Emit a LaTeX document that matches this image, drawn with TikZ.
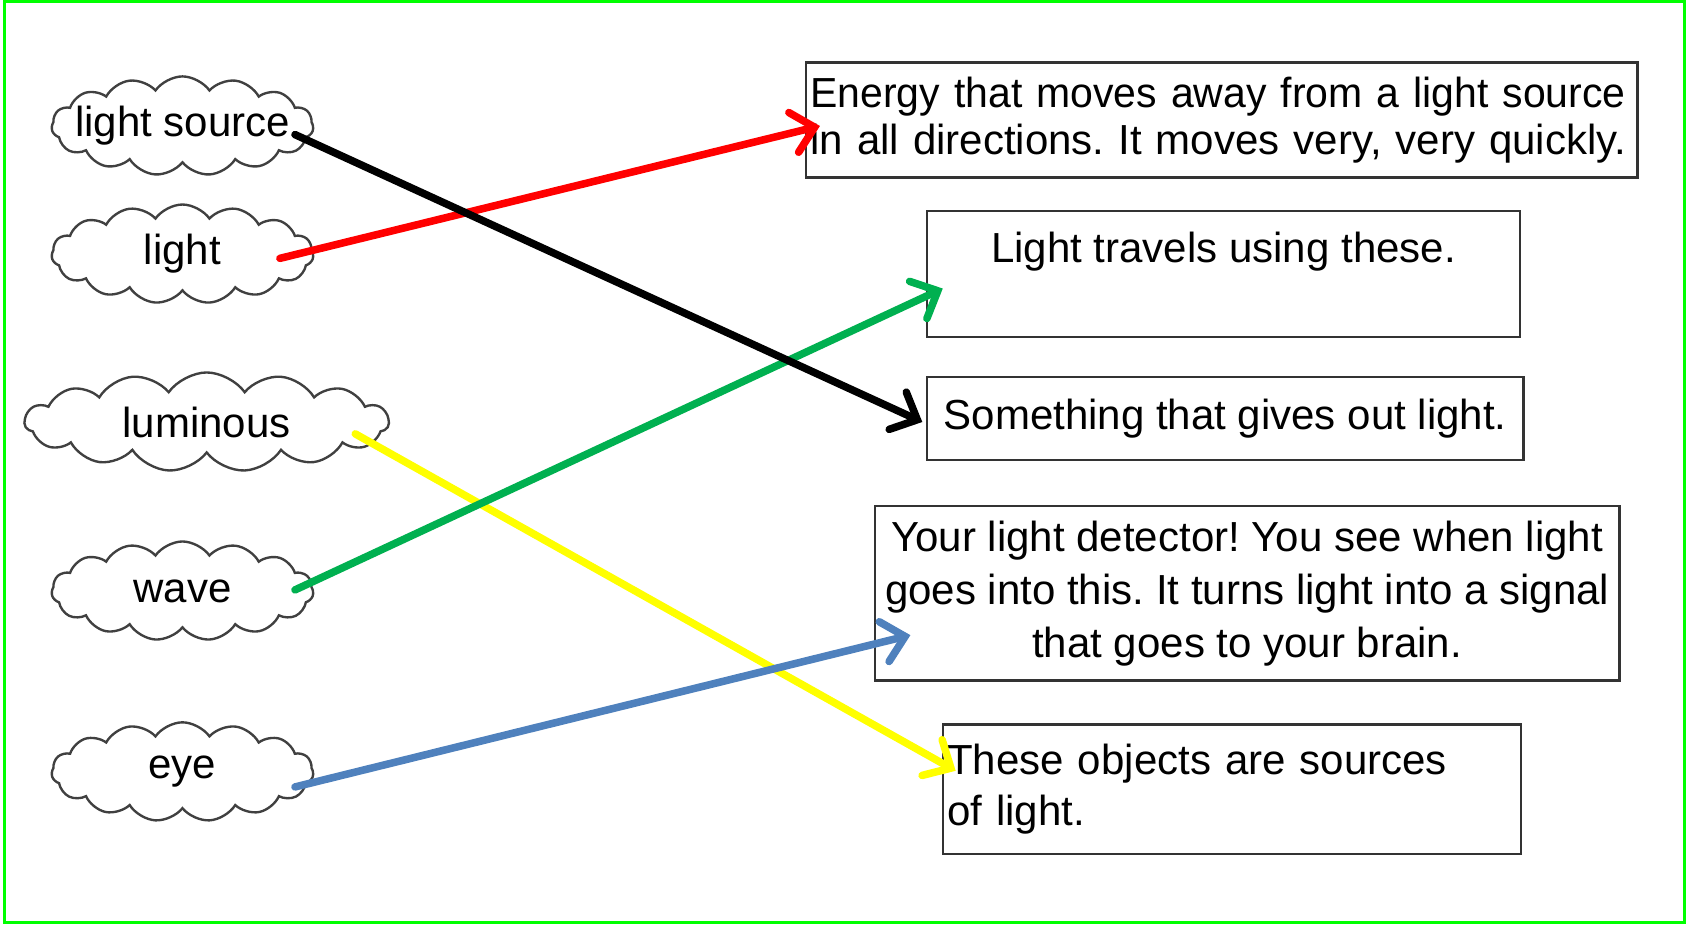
\documentclass[tikz,border=0pt]{standalone}
\usepackage{fontspec}
\setmainfont{Liberation Sans}
\newfontfamily\narrowfont{Liberation Sans}[FakeStretch=0.975]
\usepackage{tikz}
\usetikzlibrary{arrows.meta,shapes.symbols}
\definecolor{framegreen}{RGB}{0,255,0}
\definecolor{linkred}{RGB}{255,0,0}
\definecolor{linkgreen}{RGB}{0,176,80}
\definecolor{linkyellow}{RGB}{255,255,0}
\definecolor{linkblue}{RGB}{79,129,189}
\frenchspacing

\begin{document}
\begin{tikzpicture}[x=0.01cm,y=-0.01cm,
    font=\fontsize{11.1pt}{14pt}\selectfont,
    word/.style={cloud, cloud puffs=15, cloud puff arc=110, cloud ignores aspect,
      draw=black!75, line width=0.022cm, inner xsep=-0.5cm, inner ysep=-0.1cm,
      minimum width=2.43cm, minimum height=0.92cm},
    meaning/.style={draw=black!80, line width=0.022cm, inner xsep=0.04cm, inner ysep=0pt},
    link/.style={line width=0.07cm, line cap=round,
      -{Straight Barb[length=0.2cm,width=0.38cm,line cap=round]}}]
    \useasboundingbox (0,0) rectangle (1568,860);
    \draw[framegreen, line width=0.03cm] (4,1) rectangle (1565,857);

    % words on the left
    \node[word] (lsrc) at (169.5,117) {light source};
    \node[word] (lght) at (169.5,236) {light};
    \node[word, minimum width=3.38cm] (lumi) at (192,392) {luminous};
    \node[word] (wave) at (169.5,549) {wave};
    \node[word] (eye) at (169.5,717) {eye};

    % meanings on the right
    \node[meaning, minimum width=7.72cm, minimum height=1.07cm, text width=7.64cm, align=left,
      font=\fontsize{11.1pt}{12.5pt}\selectfont] (energy) at (1135,111.5)
      {{\narrowfont Energy that moves away from a light source}\\in all directions. It moves very, very quickly.};
    \node[meaning, minimum width=5.51cm, minimum height=1.17cm, align=center] (travel) at (1136.5,254.5)
      {Light travels using these.\\~};
    \node[meaning, minimum width=5.54cm, minimum height=0.77cm, align=center] (giver) at (1138,388.5)
      {Something that gives out light.};
    \node[meaning, minimum width=6.91cm, minimum height=1.62cm, align=center] (detector) at (1158.5,551)
      {Your light detector! You see when light\\goes into this. It turns light into a signal\\that goes to your brain.};
    \node[meaning, minimum width=5.37cm, minimum height=1.20cm, text width=5.29cm, align=left,
      font=\fontsize{11.1pt}{13.6pt}\selectfont] (sources) at (1144.5,733)
      {These objects are sources\\of light.};

    % matching arrows
    \draw[link, linkred] ([shift={(90.5,4)}]lght.center) -- ([shift={(14,5.5)}]energy.west);
    \draw[link, linkyellow] ([shift={(138,11)}]lumi.center) -- ([shift={(13,-17)}]sources.west);
    \draw[link, linkgreen] ([shift={(104.5,-1)}]wave.center) -- ([shift={(16,13.5)}]travel.west);
    \draw[link, linkblue] ([shift={(104.5,14)}]eye.center) -- ([shift={(34,39)}]detector.west);
    \draw[link, black] ([shift={(104.5,8)}]lsrc.center) -- ([shift={(-3,3.5)}]giver.west);
\end{tikzpicture}
\end{document}
